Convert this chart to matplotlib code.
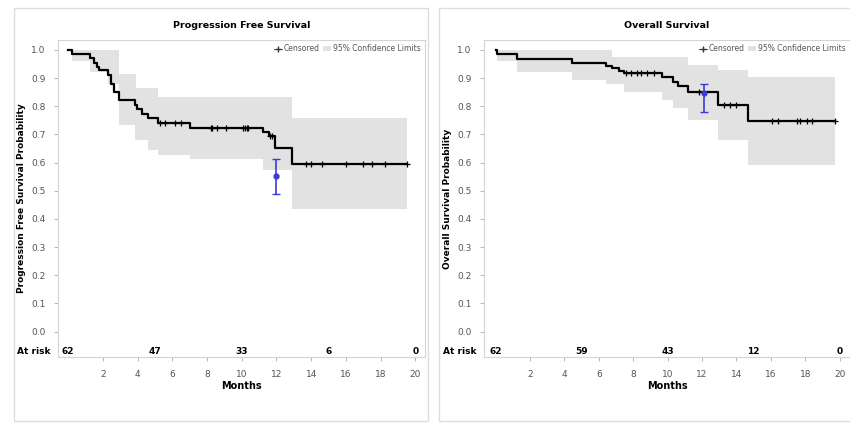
import matplotlib.pyplot as plt
import numpy as np
from matplotlib.lines import Line2D
from matplotlib.patches import Patch, Rectangle
from matplotlib.transforms import blended_transform_factory

# Progression free survival
pfs_t = [0, 0.2, 1.25, 1.5, 1.65, 1.8, 2.3, 2.45, 2.65, 2.9, 3.85, 3.95, 4.25,
         4.6, 5.2, 7.0, 11.25, 11.55, 11.9, 12.9]
pfs_s = [1.0, 0.986, 0.97, 0.955, 0.94, 0.929, 0.91, 0.88, 0.852, 0.823, 0.806,
         0.79, 0.774, 0.757, 0.74, 0.722, 0.708, 0.693, 0.651, 0.596]
pfs_end = 19.5
pfs_cens = [5.3, 5.6, 6.15, 6.5, 8.2, 8.3, 8.55, 9.1, 10.1, 10.2, 10.3, 10.35,
            11.65, 11.75, 13.7, 14.0, 14.6, 16.0, 17.0, 17.5, 18.25, 19.5]
pfs_up_t = [0, 2.9, 3.9, 5.15, 12.9]
pfs_up = [1.0, 0.915, 0.864, 0.834, 0.757]
pfs_lo_t = [0, 0.2, 1.25, 2.3, 2.9, 3.85, 4.6, 5.2, 7.0, 11.25, 12.9]
pfs_lo = [1.0, 0.96, 0.92, 0.88, 0.735, 0.68, 0.645, 0.628, 0.612, 0.574, 0.435]
pfs_pt = (12.0, 0.551, 0.488, 0.612)
pfs_risk = [62, 47, 33, 6, 0]

# Overall survival
os_t = [0, 0.1, 1.26, 4.42, 6.4, 6.77, 7.2, 7.47, 9.7, 10.3, 10.6, 11.2,
        12.95, 14.65]
os_s = [1.0, 0.985, 0.967, 0.953, 0.944, 0.935, 0.925, 0.917, 0.903, 0.887,
        0.872, 0.852, 0.803, 0.746]
os_end = 19.7
os_cens = [7.6, 7.9, 8.2, 8.45, 8.8, 9.2, 11.8, 13.3, 13.6, 14.0, 16.05, 16.4,
           17.5, 17.7, 18.1, 18.4, 19.7]
os_up_t = [0, 6.77, 11.2, 12.95, 14.65]
os_up = [1.0, 0.975, 0.947, 0.927, 0.905]
os_lo_t = [0, 0.1, 1.26, 4.42, 6.4, 7.47, 9.7, 10.3, 11.2, 12.95, 14.65]
os_lo = [1.0, 0.96, 0.923, 0.894, 0.88, 0.852, 0.823, 0.794, 0.752, 0.68, 0.59]
os_pt = (12.1, 0.846, 0.779, 0.879)
os_risk = [62, 59, 43, 12, 0]

risk_t = [0, 5, 10, 15, 20]
xticks = [2, 4, 6, 8, 10, 12, 14, 16, 18, 20]

band_col = '#e2e2e2'
blue = '#3b3bd6'
grey_txt = '#555555'


def step_val(t, s, x):
    idx = np.searchsorted(t, x, side='right') - 1
    return np.array(s)[idx]


def panel(ax, title, ylabel, t, s, end, cens, up_t, up, lo_t, lo, pt, risk):
    grid = np.unique(np.concatenate([t, up_t, lo_t, [end]]))
    ax.fill_between(grid, step_val(up_t, up, grid), step_val(lo_t, lo, grid),
                    step='post', color=band_col, lw=0, zorder=1)
    ax.step(list(t) + [end], list(s) + [s[-1]], where='post', color='black',
            lw=1.6, zorder=3)
    ax.plot(cens, step_val(t, s, cens), ls='none', marker='+', ms=5,
            mew=0.9, color='black', zorder=4)
    ax.errorbar(pt[0], pt[1], yerr=[[pt[1] - pt[2]], [pt[3] - pt[1]]],
                fmt='o', ms=3.5, color=blue, ecolor=blue, elinewidth=1.2,
                capsize=3, capthick=1.0, zorder=5)
    ax.set_ylim(-0.09, 1.035)
    ax.set_yticks(np.arange(0, 1.01, 0.1))
    ax.set_yticklabels(['%.1f' % v for v in np.arange(0, 1.01, 0.1)])
    ax.set_xticks(xticks)
    ax.tick_params(colors='#aaaaaa', labelcolor=grey_txt, labelsize=6.5,
                   length=3, width=0.6, pad=6)
    for sp in ax.spines.values():
        sp.set_color('#d4d4d4')
        sp.set_linewidth(0.8)
    ax.set_title(title, fontsize=6.8, fontweight='bold', pad=9)
    ax.set_xlabel('Months', fontsize=7, fontweight='bold', labelpad=2)
    ax.set_ylabel(ylabel, fontsize=6.5, fontweight='bold', labelpad=4)
    for rt, n in zip(risk_t, risk):
        ax.text(rt, -0.07, str(n), ha='center', va='center', fontsize=6.5,
                fontweight='bold')
    tr = blended_transform_factory(ax.transAxes, ax.transData)
    ax.text(-0.02, -0.07, 'At risk', transform=tr, ha='right', va='center',
            fontsize=6.5, fontweight='bold')
    handles = [Line2D([], [], ls='-', marker='+', color='#333333', lw=0.6, ms=5),
               Patch(facecolor=band_col, edgecolor='none')]
    ax.legend(handles, ['Censored', '95% Confidence Limits'], ncol=2,
              loc='upper right', frameon=False, fontsize=5.5, handlelength=1.0,
              handletextpad=0.3, columnspacing=0.4, borderaxespad=0.15,
              labelcolor=grey_txt)


fig = plt.figure(figsize=(8.5, 4.23), dpi=100)
fig.patches.append(Rectangle((14 / 850, 2 / 423), 414 / 850, 413 / 423,
                             transform=fig.transFigure, fill=False,
                             ec='#dddddd', lw=1))
fig.patches.append(Rectangle((439 / 850, 2 / 423), 420 / 850, 413 / 423,
                             transform=fig.transFigure, fill=False,
                             ec='#dddddd', lw=1))

ax1 = fig.add_axes([58 / 850, 66 / 423, 367 / 850, 317 / 423])
ax2 = fig.add_axes([484 / 850, 66 / 423, 366 / 850, 317 / 423])

panel(ax1, 'Progression Free Survival', 'Progression Free Survival Probability',
      pfs_t, pfs_s, pfs_end, pfs_cens, pfs_up_t, pfs_up, pfs_lo_t, pfs_lo,
      pfs_pt, pfs_risk)
ax1.set_xlim(-0.59, 20.56)

panel(ax2, 'Overall Survival', 'Overall Survival Probability',
      os_t, os_s, os_end, os_cens, os_up_t, os_up, os_lo_t, os_lo,
      os_pt, os_risk)
ax2.set_xlim(-0.67, 20.6)

fig.savefig('out.png', dpi=100)
